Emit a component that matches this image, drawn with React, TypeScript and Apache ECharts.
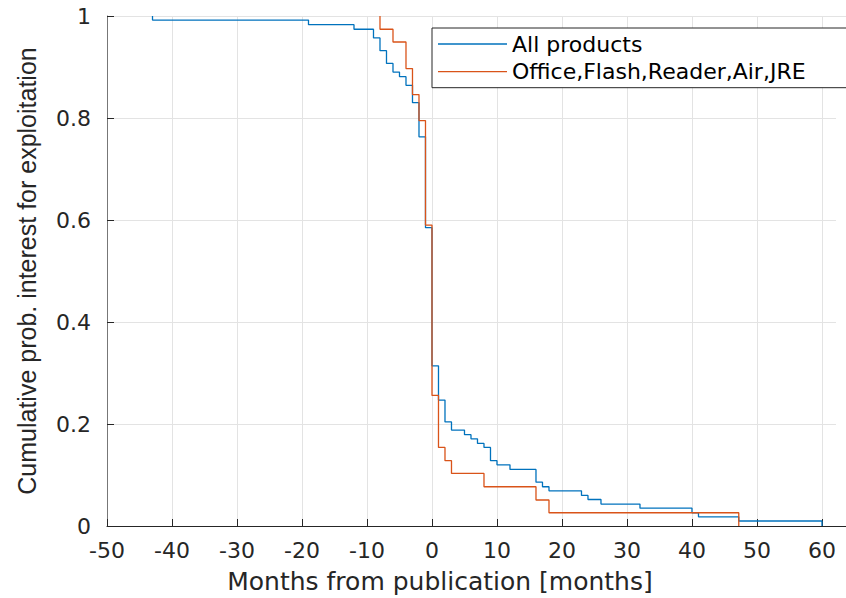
import React, { useEffect, useRef } from "react";
import * as echarts from "echarts";

// Step data (x = months, y = cumulative prob.)
const allX = [-43, -43, -19, -12, -9, -8, -7, -6, -5, -4, -3, -2, -1, 0, 1, 2, 3, 5, 6, 7, 8, 9, 10, 12, 16, 17, 18, 23, 24, 26, 32, 40, 41, 47.2, 60, 60];
const allY = [1, 0.992, 0.983, 0.974, 0.957, 0.932, 0.907, 0.89, 0.881, 0.864, 0.83, 0.763, 0.585, 0.314, 0.247, 0.204, 0.188, 0.179, 0.171, 0.162, 0.154, 0.128, 0.12, 0.111, 0.086, 0.077, 0.069, 0.06, 0.052, 0.043, 0.035, 0.026, 0.018, 0.0098, 0.0098, 0];

const subX = [-8, -8, -6, -4, -3, -2, -1, 0, 1, 2, 3, 8, 16, 18, 47.2];
const subY = [1, 0.974, 0.949, 0.897, 0.846, 0.795, 0.59, 0.256, 0.154, 0.128, 0.103, 0.077, 0.051, 0.026, 0];

const seriesNames = ["All products", "Office,Flash,Reader,Air,JRE"];
const seriesColors = ["#0072BD", "#D95319"];
const xTitle = "Months from publication [months]";
const yTitle = "Cumulative prob. interest for exploitation";

const zip = (xs: number[], ys: number[]) => xs.map((x, i) => [x, ys[i]]);

export default function App() {
  const ref = useRef<HTMLDivElement>(null);
  useEffect(() => {
    if (!ref.current) return;
    const chart = echarts.init(ref.current, undefined, { renderer: "svg" });
    const tickFont = { fontFamily: "DejaVu Sans", fontSize: 22, color: "#262626" };
    chart.setOption({
      animation: false,
      backgroundColor: "#fff",
      grid: { left: 107, right: 2, top: 16, bottom: 72, containLabel: false },
      xAxis: {
        type: "value",
        min: -50,
        max: 63.85,
        interval: 10,
        axisLine: { show: true, onZero: false, lineStyle: { color: "#262626", width: 1 } },
        axisTick: { show: true, inside: true, length: 7, lineStyle: { color: "#262626" } },
        splitLine: { show: true, lineStyle: { color: "#e3e3e3", width: 1 } },
        axisLabel: {
          ...tickFont,
          margin: 13,
          formatter: (v: number) => (v > 60 ? "" : String(v)),
        },
      },
      yAxis: {
        type: "value",
        min: 0,
        max: 1,
        interval: 0.2,
        name: yTitle,
        nameLocation: "middle",
        nameGap: 68,
        nameTextStyle: { fontFamily: "Liberation Sans", fontSize: 25, color: "#262626" },
        axisLine: { show: true, onZero: false, lineStyle: { color: "#777777", width: 1 } },
        axisTick: { show: true, inside: true, length: 7, lineStyle: { color: "#262626" } },
        splitLine: { show: true, lineStyle: { color: "#e3e3e3", width: 1 } },
        axisLabel: { ...tickFont, margin: 16 },
      },
      legend: {
        orient: "vertical",
        left: 432,
        top: 28,
        padding: [5, 110, 5, 6],
        itemWidth: 69,
        itemHeight: 1.3,
        itemGap: 5.7,
        icon: "rect",
        backgroundColor: "#fff",
        borderColor: "#262626",
        borderWidth: 1,
        textStyle: { fontFamily: "DejaVu Sans", fontSize: 22, color: "#000", lineHeight: 22 },
        data: seriesNames,
      },
      graphic: [
        {
          type: "text",
          style: {
            x: 440,
            y: 581,
            text: xTitle,
            align: "center",
            verticalAlign: "middle",
            fontFamily: "DejaVu Sans",
            fontSize: 25,
            fill: "#262626",
          },
        },
        {
          type: "rect",
          z: 100,
          shape: { x: 836, y: 17, width: 20, height: 10 },
          style: { fill: "#fff" },
        },
        {
          type: "rect",
          z: 100,
          shape: { x: 836, y: 89, width: 20, height: 436 },
          style: { fill: "#fff" },
        },
      ],
      series: [
        {
          name: seriesNames[0],
          type: "line",
          step: "end",
          symbol: "none",
          showSymbol: false,
          color: seriesColors[0],
          lineStyle: { color: seriesColors[0], width: 1.3 },
          data: zip(allX, allY),
        },
        {
          name: seriesNames[1],
          type: "line",
          step: "end",
          symbol: "none",
          showSymbol: false,
          color: seriesColors[1],
          lineStyle: { color: seriesColors[1], width: 1.3 },
          data: zip(subX, subY),
        },
      ],
    });
    return () => chart.dispose();
  }, []);
  return (
    <div style={{ position: "fixed", left: 0, top: 0, width: 846, height: 598, overflow: "hidden", background: "#fff" }}>
      <div ref={ref} style={{ width: 850, height: 598 }} />
    </div>
  );
}
